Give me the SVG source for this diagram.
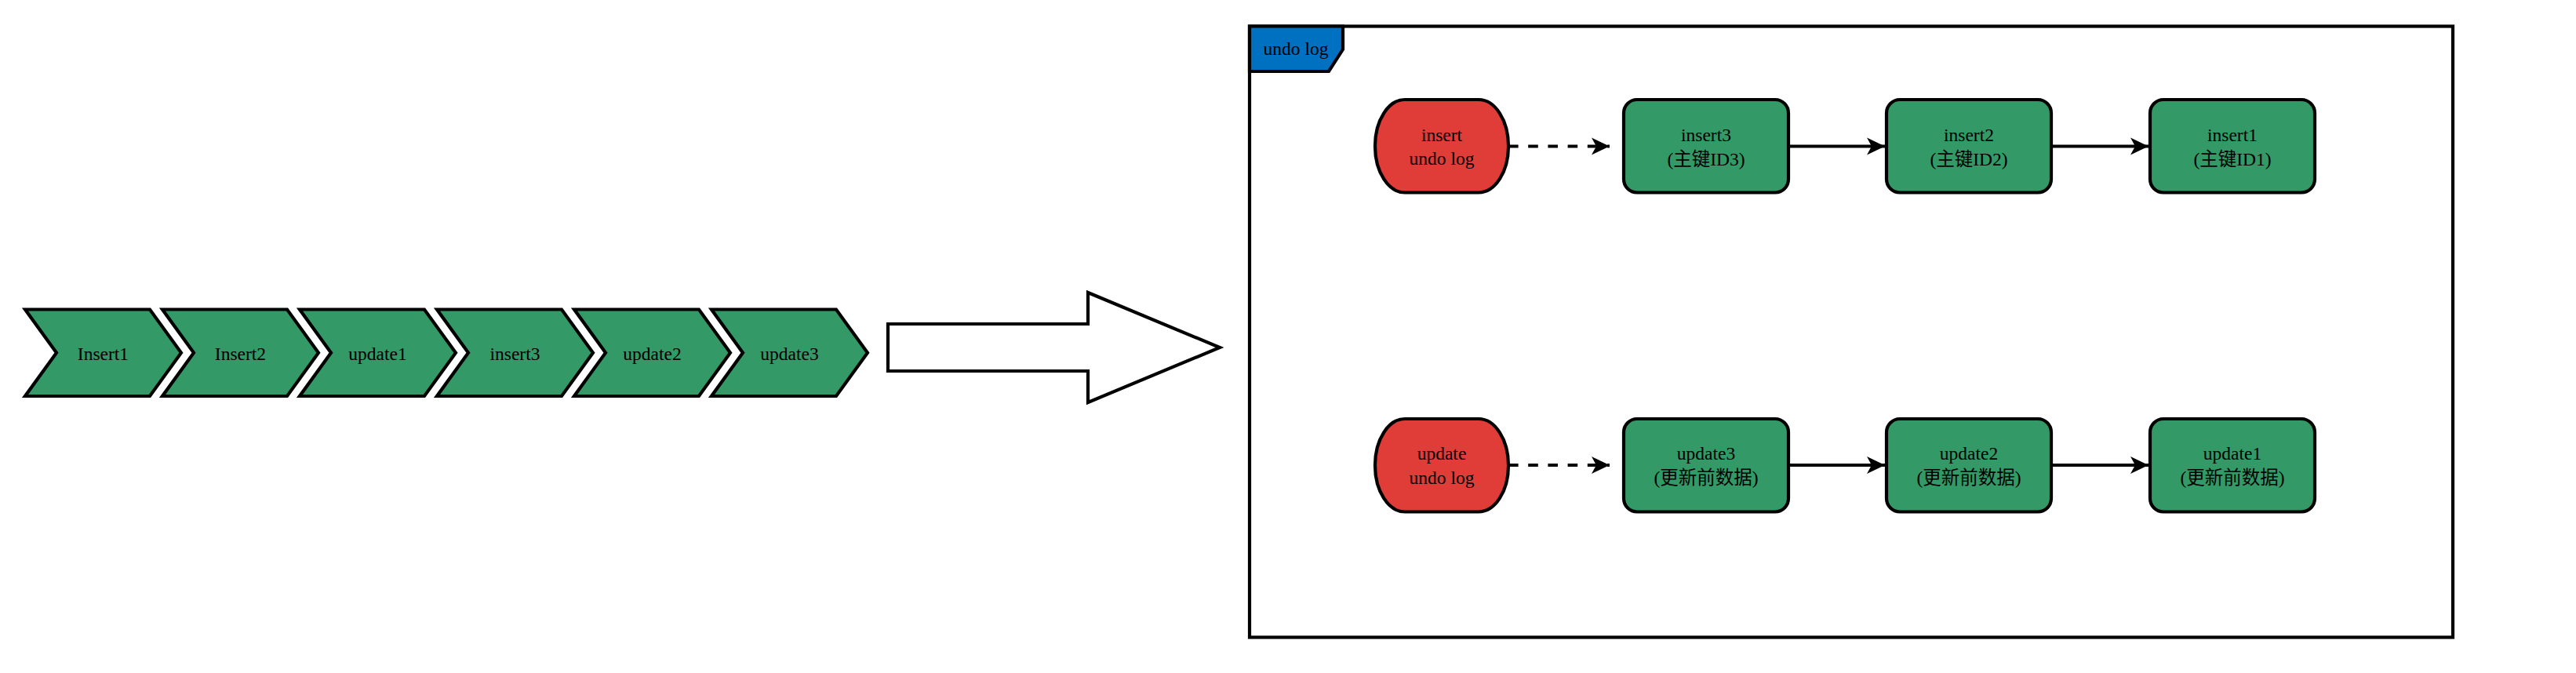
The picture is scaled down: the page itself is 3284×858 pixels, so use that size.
<svg xmlns="http://www.w3.org/2000/svg" width="3284" height="858" viewBox="0 0 3284 858">
<style>
  .t { font-family: "Liberation Serif", "Noto Sans CJK SC", serif; font-size: 23.5px; fill: #000; text-anchor: middle; }
  .chev { fill: #339966; stroke: #000; stroke-width: 4.2; stroke-linejoin: miter; }
  .box { fill: #339966; stroke: #000; stroke-width: 4.2; }
  .red { fill: #E03D39; stroke: #000; stroke-width: 4.2; }
  .edge { fill: none; stroke: #000; stroke-width: 4.2; }
  .dash { stroke-dasharray: 12.6 12.6; }
</style>
<defs>
  <marker id="arr" markerUnits="userSpaceOnUse" markerWidth="30" markerHeight="30" refX="23" refY="12" orient="auto" overflow="visible">
    <path d="M0,1 L23,12 L0,23 L6,12 Z" fill="#000" stroke="none"/>
  </marker>
</defs>
<rect width="3284" height="858" fill="#fff"/>

<g id="step-insert1">
  <path class="chev" d="M32,394.5 L191,394.5 L231,449.7 L191,505 L32,505 L72,449.7 Z"/>
  <text class="t" x="131.5" y="459">Insert1</text>
</g>
<g id="step-insert2">
  <path class="chev" d="M207,394.5 L366,394.5 L406,449.7 L366,505 L207,505 L247,449.7 Z"/>
  <text class="t" x="306.5" y="459">Insert2</text>
</g>
<g id="step-update1">
  <path class="chev" d="M382,394.5 L541,394.5 L581,449.7 L541,505 L382,505 L422,449.7 Z"/>
  <text class="t" x="481.5" y="459">update1</text>
</g>
<g id="step-insert3">
  <path class="chev" d="M557,394.5 L716,394.5 L756,449.7 L716,505 L557,505 L597,449.7 Z"/>
  <text class="t" x="656.5" y="459">insert3</text>
</g>
<g id="step-update2">
  <path class="chev" d="M732,394.5 L891,394.5 L931,449.7 L891,505 L732,505 L772,449.7 Z"/>
  <text class="t" x="831.5" y="459">update2</text>
</g>
<g id="step-update3">
  <path class="chev" d="M907,394.5 L1066,394.5 L1106,449.7 L1066,505 L907,505 L947,449.7 Z"/>
  <text class="t" x="1006.5" y="459">update3</text>
</g>

<g id="big-arrow">
  <path d="M1132,413 L1387,413 L1387,373 L1555,443 L1387,513 L1387,473 L1132,473 Z" fill="#fff" stroke="#000" stroke-width="4.2"/>
</g>

<g id="undo-log-frame">
  <rect x="1593" y="33.5" width="1534" height="779" fill="#fff" stroke="#000" stroke-width="4.2"/>
  <path d="M1593,33.5 L1712,33.5 L1712,63 L1694,91 L1593,91 Z" fill="#0070C0" stroke="#000" stroke-width="4.2"/>
  <text class="t" x="1652" y="69.5">undo log</text>
</g>

<g id="insert-undo-log">
  <rect class="red" x="1753" y="127" width="170" height="118.5" rx="38" ry="59"/>
  <text class="t" x="1838" y="179.5">insert</text>
  <text class="t" x="1838" y="210">undo log</text>
</g>
<g id="insert3-node">
  <rect class="box" x="2070" y="127" width="210" height="118.5" rx="17" ry="17"/>
  <text class="t" x="2175" y="180">insert3</text>
  <text class="t" x="2175" y="211">(主键ID3)</text>
</g>
<g id="insert2-node">
  <rect class="box" x="2405" y="127" width="210" height="118.5" rx="17" ry="17"/>
  <text class="t" x="2510" y="180">insert2</text>
  <text class="t" x="2510" y="211">(主键ID2)</text>
</g>
<g id="insert1-node">
  <rect class="box" x="2741" y="127" width="210" height="118.5" rx="17" ry="17"/>
  <text class="t" x="2846" y="180">insert1</text>
  <text class="t" x="2846" y="211">(主键ID1)</text>
</g>

<g id="update-undo-log">
  <rect class="red" x="1753" y="534" width="170" height="118.5" rx="38" ry="59"/>
  <text class="t" x="1838" y="586">update</text>
  <text class="t" x="1838" y="616.5">undo log</text>
</g>
<g id="update3-node">
  <rect class="box" x="2070" y="534" width="210" height="118.5" rx="17" ry="17"/>
  <text class="t" x="2175" y="586">update3</text>
  <text class="t" x="2175" y="617">(更新前数据)</text>
</g>
<g id="update2-node">
  <rect class="box" x="2405" y="534" width="210" height="118.5" rx="17" ry="17"/>
  <text class="t" x="2510" y="586">update2</text>
  <text class="t" x="2510" y="617">(更新前数据)</text>
</g>
<g id="update1-node">
  <rect class="box" x="2741" y="534" width="210" height="118.5" rx="17" ry="17"/>
  <text class="t" x="2846" y="586">update1</text>
  <text class="t" x="2846" y="617">(更新前数据)</text>
</g>

<g id="connectors">
  <path class="edge dash" d="M1923,186.5 L2052,186.5" marker-end="url(#arr)"/>
  <path class="edge" d="M2280,186.5 L2403,186.5" marker-end="url(#arr)"/>
  <path class="edge" d="M2615,186.5 L2739,186.5" marker-end="url(#arr)"/>
  <path class="edge dash" d="M1923,593 L2052,593" marker-end="url(#arr)"/>
  <path class="edge" d="M2280,593 L2403,593" marker-end="url(#arr)"/>
  <path class="edge" d="M2615,593 L2739,593" marker-end="url(#arr)"/>
</g>
</svg>
